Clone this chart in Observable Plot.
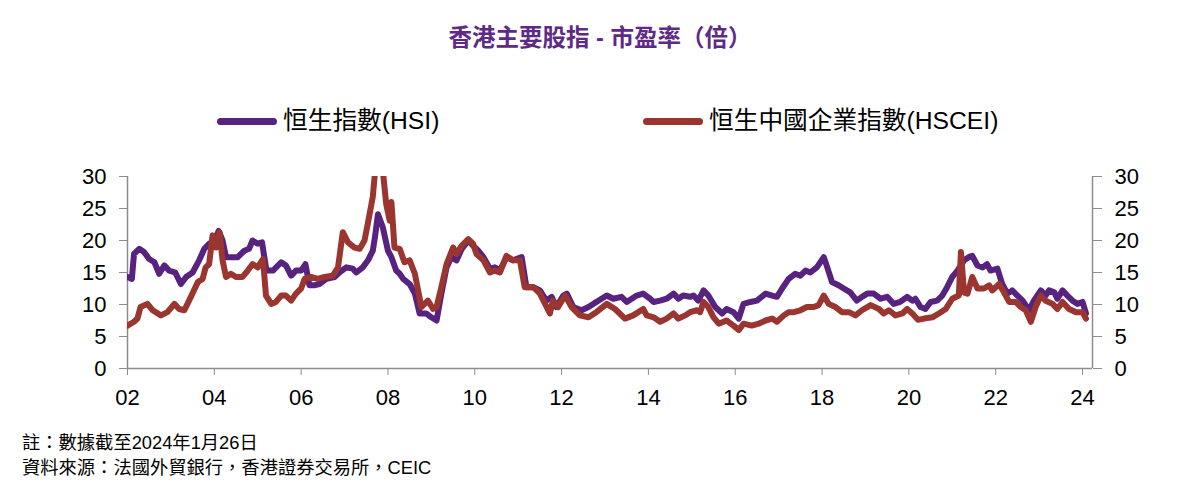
<!DOCTYPE html>
<html>
<head>
<meta charset="utf-8">
<script src="https://cdn.jsdelivr.net/npm/d3@7"></script>
<script src="https://cdn.jsdelivr.net/npm/@observablehq/plot@0.6"></script>
<style>
  body { margin:0; background:#fff; width:1200px; height:480px; position:relative; overflow:hidden;
         font-family:"Liberation Sans","Noto Sans CJK TC",Arial,sans-serif; }
  #title { position:absolute; top:23px; left:0; width:1200px; text-align:center; line-height:30px;
           font-size:23.5px; font-weight:bold; color:#5e2a88; font-family:"Liberation Sans","Noto Sans CJK TC",sans-serif; }
  .leg { position:absolute; top:106px; line-height:30px; font-size:24.7px; display:flex; align-items:center; color:#000; }
  .sw { width:60px; height:7px; border-radius:4px; margin-right:6px; }
  #chart { position:absolute; top:150px; left:0; }
  .foot { position:absolute; left:22px; font-size:18.3px; line-height:22px; color:#000; }
</style>
</head>
<body>
<div id="title">香港主要股指 - 市盈率（倍）</div>
<div class="leg" id="leg1" style="left:217px"><div class="sw" style="background:#58237f"></div><span>恒生指數(HSI)</span></div>
<div class="leg" id="leg2" style="left:643px"><div class="sw" style="background:#9b3530"></div><span>恒生中國企業指數(HSCEI)</span></div>
<div id="chart"></div>
<div class="foot" style="top:432px">註：數據截至2024年1月26日</div>
<div class="foot" style="top:457px">資料來源：法國外貿銀行，香港證券交易所，CEIC</div>
<script>
const seriesNames = ["恒生指數(HSI)", "恒生中國企業指數(HSCEI)"];
const seriesColors = ["#58237f", "#9b3530"];
const xTicks = [2002, 2004, 2006, 2008, 2010, 2012, 2014, 2016, 2018, 2020, 2022, 2024];
const yTicks = [0, 5, 10, 15, 20, 25, 30];

const hsiYears = [2002.00,2002.10,2002.15,2002.27,2002.38,2002.50,2002.62,2002.73,2002.85,2002.96,2003.10,2003.23,2003.35,2003.50,2003.65,2003.77,2003.88,2004.00,2004.10,2004.19,2004.27,2004.38,2004.54,2004.69,2004.80,2004.88,2005.00,2005.10,2005.20,2005.35,2005.54,2005.65,2005.77,2005.88,2006.00,2006.10,2006.19,2006.30,2006.42,2006.58,2006.77,2006.88,2007.04,2007.19,2007.27,2007.42,2007.54,2007.65,2007.70,2007.77,2007.88,2008.00,2008.08,2008.19,2008.27,2008.35,2008.50,2008.62,2008.73,2008.88,2009.00,2009.12,2009.23,2009.35,2009.46,2009.58,2009.70,2009.85,2009.96,2010.08,2010.20,2010.35,2010.46,2010.58,2010.73,2010.88,2011.08,2011.19,2011.35,2011.50,2011.65,2011.77,2011.88,2012.04,2012.12,2012.27,2012.46,2012.62,2012.80,2013.04,2013.19,2013.38,2013.50,2013.73,2013.88,2014.04,2014.12,2014.27,2014.42,2014.58,2014.69,2014.80,2014.96,2015.04,2015.15,2015.27,2015.38,2015.54,2015.70,2015.80,2015.96,2016.08,2016.19,2016.35,2016.50,2016.70,2016.85,2016.96,2017.08,2017.23,2017.38,2017.50,2017.62,2017.73,2017.88,2018.04,2018.12,2018.23,2018.38,2018.50,2018.65,2018.80,2018.92,2019.04,2019.19,2019.35,2019.50,2019.65,2019.80,2019.96,2020.08,2020.15,2020.27,2020.38,2020.50,2020.65,2020.77,2020.88,2021.00,2021.12,2021.27,2021.38,2021.46,2021.58,2021.70,2021.80,2021.88,2022.04,2022.15,2022.27,2022.38,2022.50,2022.62,2022.77,2022.88,2023.04,2023.15,2023.23,2023.35,2023.42,2023.54,2023.65,2023.77,2023.88,2024.00,2024.08];
const hsiValues = [14.3,14.0,17.9,18.7,18.2,17.1,16.6,14.8,16.1,15.3,15.0,13.2,14.3,15.0,16.9,18.7,19.5,20.0,21.5,20.0,17.4,17.4,17.4,18.4,18.7,20.0,19.5,19.7,15.3,15.3,16.6,16.1,14.5,15.3,15.3,16.3,13.0,13.0,13.2,14.0,14.3,15.0,15.8,15.6,15.0,15.8,16.9,18.4,20.5,24.1,22.1,18.4,17.4,15.3,14.8,14.0,13.2,11.7,8.6,8.6,8.0,7.5,11.7,15.8,17.4,16.9,18.7,20.0,19.2,18.4,17.4,15.6,15.8,15.3,17.4,16.9,17.4,12.7,12.7,12.2,10.6,11.2,9.6,11.4,11.7,9.6,9.1,9.6,10.4,11.4,10.9,11.2,10.4,11.4,11.7,10.9,10.4,10.6,10.9,11.7,10.9,11.4,11.2,11.4,10.6,12.2,11.4,9.6,8.6,9.3,8.8,7.8,10.1,10.4,10.6,11.7,11.4,11.2,12.5,14.0,14.8,14.5,15.3,15.0,15.8,17.4,15.8,13.5,13.0,12.5,11.9,10.6,11.2,11.7,11.7,10.9,11.2,10.1,10.4,11.2,10.6,10.9,9.6,9.3,10.4,10.6,11.4,12.7,14.3,15.3,16.9,17.4,17.6,16.1,15.8,16.3,15.3,15.6,13.2,11.7,12.2,11.4,10.6,9.1,10.6,12.2,11.4,12.2,11.9,10.9,12.2,11.4,10.6,10.1,10.4,8.6];

const hsceiYears = [2002.00,2002.15,2002.23,2002.30,2002.46,2002.58,2002.77,2002.92,2003.08,2003.19,2003.31,2003.46,2003.62,2003.73,2003.80,2003.88,2003.96,2004.04,2004.12,2004.19,2004.27,2004.38,2004.50,2004.65,2004.77,2004.88,2005.00,2005.12,2005.19,2005.31,2005.42,2005.54,2005.65,2005.77,2005.88,2006.00,2006.08,2006.23,2006.38,2006.54,2006.73,2006.85,2006.96,2007.08,2007.23,2007.35,2007.46,2007.54,2007.65,2007.72,2007.80,2007.88,2007.96,2008.04,2008.08,2008.15,2008.27,2008.38,2008.50,2008.62,2008.77,2008.92,2009.04,2009.12,2009.23,2009.35,2009.50,2009.58,2009.70,2009.85,2009.96,2010.04,2010.20,2010.35,2010.46,2010.58,2010.73,2010.88,2011.04,2011.15,2011.35,2011.50,2011.62,2011.73,2011.80,2011.92,2012.08,2012.23,2012.42,2012.62,2012.80,2013.04,2013.23,2013.46,2013.65,2013.88,2013.96,2014.12,2014.27,2014.42,2014.58,2014.69,2014.85,2014.96,2015.12,2015.19,2015.27,2015.38,2015.50,2015.62,2015.80,2015.96,2016.08,2016.19,2016.38,2016.54,2016.70,2016.85,2016.96,2017.12,2017.23,2017.35,2017.50,2017.65,2017.81,2017.92,2018.04,2018.15,2018.31,2018.46,2018.62,2018.77,2018.92,2019.12,2019.31,2019.42,2019.54,2019.69,2019.85,2019.96,2020.08,2020.21,2020.35,2020.54,2020.69,2020.85,2021.00,2021.15,2021.20,2021.27,2021.35,2021.46,2021.58,2021.73,2021.85,2021.92,2022.08,2022.19,2022.31,2022.46,2022.58,2022.69,2022.81,2022.92,2023.04,2023.15,2023.31,2023.42,2023.54,2023.69,2023.85,2024.00,2024.08];
const hsceiValues = [6.7,7.3,7.8,9.6,10.1,9.1,8.3,8.8,10.1,9.3,9.1,11.2,13.5,14.0,15.8,16.3,20.8,18.9,21.3,16.9,14.3,14.8,14.3,14.3,15.3,16.3,15.8,17.1,11.4,10.1,10.4,11.4,11.4,10.6,11.7,12.5,14.0,14.3,14.0,14.3,14.5,15.8,21.3,19.7,18.9,18.7,20.0,22.8,26.8,32.0,38.0,31.0,25.7,23.1,26.0,18.9,18.7,16.6,16.9,14.8,9.6,10.6,9.3,9.6,12.7,16.3,18.9,17.9,19.2,20.2,19.5,17.9,16.9,15.0,15.3,15.0,17.6,16.9,16.9,12.7,12.7,11.7,10.1,8.6,10.6,9.6,11.4,9.6,8.3,8.0,8.8,10.1,9.3,7.8,8.3,9.3,8.3,8.0,7.3,7.8,8.6,7.8,8.3,8.8,9.1,8.8,10.4,9.6,8.0,7.0,7.5,6.7,6.0,7.0,6.7,7.0,7.5,7.8,7.3,8.3,8.8,8.8,9.1,9.6,9.6,9.9,11.4,10.1,9.6,8.8,8.8,8.3,9.1,9.9,9.3,8.6,9.1,8.3,8.6,9.3,8.6,7.6,7.8,8.0,8.6,9.3,10.9,11.4,18.2,11.9,11.7,14.3,12.5,12.5,13.0,12.2,13.2,11.9,10.4,10.4,9.6,9.1,7.3,9.6,11.4,10.6,10.1,9.3,10.4,9.3,8.8,8.8,7.8];

const hsi = hsiYears.map((x, i) => ({x, y: hsiValues[i], s: seriesNames[0]}));
const hscei = hsceiYears.map((x, i) => ({x, y: hsceiValues[i], s: seriesNames[1]}));

const xMax = 2024.23;
const axisGray = "#8c8c8c";
const tickFont = 22;

const chart = Plot.plot({
  width: 1200,
  height: 260,
  marginLeft: 127,
  marginRight: 108,
  marginTop: 26,
  marginBottom: 42,
  style: {fontFamily: "'Liberation Sans', Arial, sans-serif", fontSize: tickFont + "px", color: "#000", background: "#fff"},
  x: {domain: [2002, xMax]},
  y: {domain: [0, 30]},
  marks: [
    Plot.axisY({anchor: "left", ticks: yTicks, tickSize: 8, tickPadding: 13, stroke: axisGray, fill: "#000", fontSize: tickFont, label: null}),
    Plot.axisY({anchor: "right", ticks: yTicks, tickSize: 9, tickPadding: 13, stroke: axisGray, fill: "#000", fontSize: tickFont, label: null}),
    Plot.axisX({ticks: xTicks, tickSize: 7, tickPadding: 14, stroke: axisGray, fill: "#000", fontSize: tickFont, label: null,
                tickFormat: d => String(d % 100).padStart(2, "0")}),
    Plot.ruleX([2002, xMax], {stroke: axisGray, strokeWidth: 1.5}),
    Plot.ruleY([0], {stroke: axisGray, strokeWidth: 1.5}),
    Plot.line(hsi, {x: "x", y: "y", stroke: seriesColors[0], strokeWidth: 6, strokeLinejoin: "round", strokeLinecap: "round", clip: true}),
    Plot.line(hscei, {x: "x", y: "y", stroke: seriesColors[1], strokeWidth: 6, strokeLinejoin: "round", strokeLinecap: "round", clip: true})
  ]
});
document.getElementById("chart").appendChild(chart);
</script>
</body>
</html>
